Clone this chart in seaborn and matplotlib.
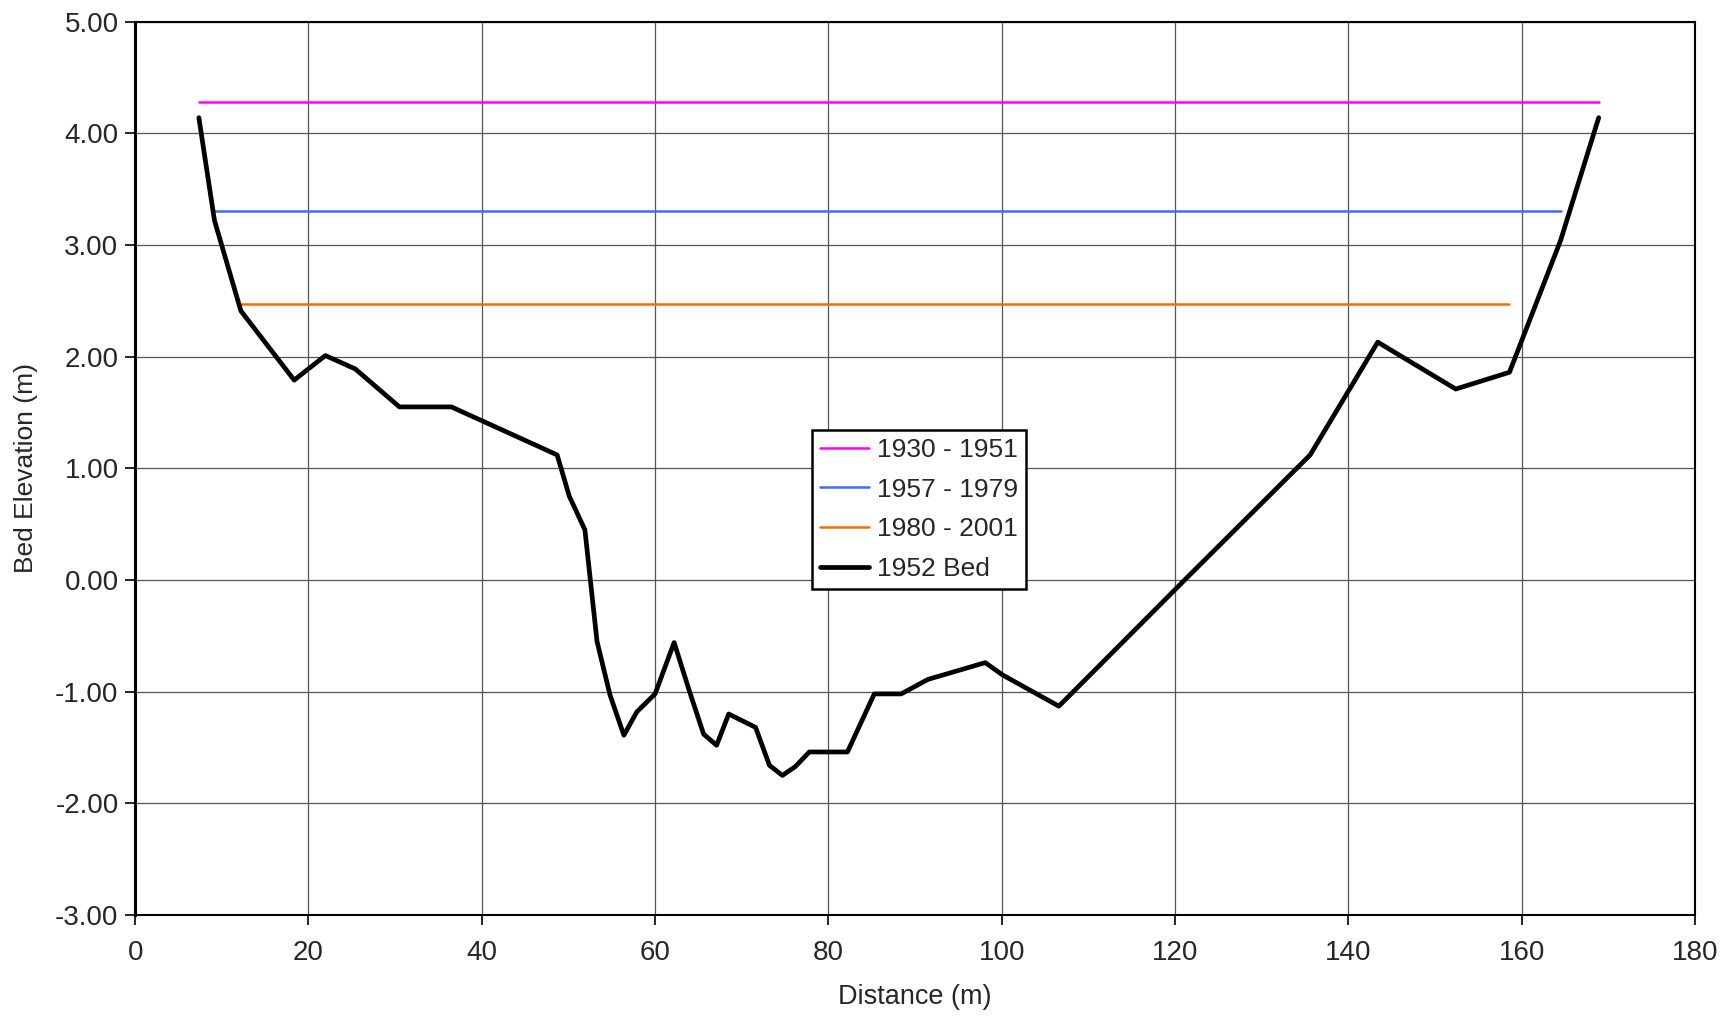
import numpy as np
import pandas as pd
import matplotlib
matplotlib.use("Agg")
import matplotlib.pyplot as plt
import seaborn as sns
from matplotlib.ticker import FormatStrFormatter

sns.set_style("white")
plt.rcParams['font.family'] = ['Liberation Sans', 'DejaVu Sans']
plt.rcParams['axes.unicode_minus'] = False

# 1952 bed profile (distance m, elevation m)
bed_x = [7.35, 9.15, 12.2, 18.35, 21.95, 25.4, 30.5, 36.5, 48.7, 50.1, 51.9,
         53.3, 54.8, 56.4, 57.9, 60.0, 62.2, 63.9, 65.6, 67.1, 68.5, 71.6,
         73.2, 74.7, 76.2, 77.8, 82.2, 85.3, 88.4, 91.5, 98.1, 100.1, 106.6,
         121.5, 135.6, 143.4, 152.4, 158.6, 164.5, 168.9]
bed_y = [4.14, 3.22, 2.41, 1.79, 2.01, 1.89, 1.55, 1.55, 1.12, 0.75, 0.45,
         -0.55, -1.03, -1.39, -1.18, -1.02, -0.56, -0.98, -1.38, -1.48, -1.20, -1.32,
         -1.66, -1.75, -1.67, -1.54, -1.54, -1.02, -1.02, -0.89, -0.74, -0.85, -1.13,
         0.03, 1.12, 2.13, 1.71, 1.86, 3.04, 4.14]

# water levels for each period
periods = ["1930 - 1951", "1957 - 1979", "1980 - 2001"]
level_y = [4.28, 3.30, 2.47]
level_x0 = [7.35, 9.15, 12.2]
level_x1 = [168.9, 164.5, 158.6]
level_colors = ["#FF00FF", "#3F6BFF", "#FF6A00"]

bed = pd.DataFrame({"dist": bed_x, "elev": bed_y})

fig = plt.figure(figsize=(17.33, 10.16), dpi=100)
ax = fig.add_axes([0.078, 0.0994, 0.900, 0.8793])

for name, y, x0, x1, c in zip(periods, level_y, level_x0, level_x1, level_colors):
    lv = pd.DataFrame({"dist": [x0, x1], "elev": [y, y]})
    sns.lineplot(data=lv, x="dist", y="elev", color=c, lw=1.8, label=name, ax=ax)

sns.lineplot(data=bed, x="dist", y="elev", sort=False, color="black", lw=3.4,
             label="1952 Bed", ax=ax)

ax.set_xlim(0, 180)
ax.set_ylim(-3, 5)
ax.set_xticks(np.arange(0, 181, 20))
ax.set_yticks(np.arange(-3, 5.01, 1))
ax.yaxis.set_major_formatter(FormatStrFormatter("%.2f"))
ax.grid(True, color="#555555", lw=0.9)
ax.set_axisbelow(True)
ax.tick_params(axis="both", direction="out", length=7, width=1.2, color="black",
               labelsize=20, left=True, bottom=True)
ax.tick_params(axis="x", pad=11)
ax.tick_params(axis="y", pad=5)

for side in ["top", "right", "bottom"]:
    ax.spines[side].set_color("black")
    ax.spines[side].set_linewidth(1.5)
ax.spines["left"].set_color("black")
ax.spines["left"].set_linewidth(2.2)

ax.set_xlabel("Distance (m)", fontsize=19.5, labelpad=13)
ax.set_ylabel("Bed Elevation (m)", fontsize=19, labelpad=12)

leg = ax.legend(loc="upper left", bbox_to_anchor=(0.434, 0.543), fontsize=19,
                frameon=True, fancybox=False, edgecolor="black", framealpha=1,
                handlelength=1.85, handletextpad=0.3, labelspacing=0.6,
                borderpad=0.3, borderaxespad=0)
leg.get_frame().set_linewidth(1.8)

fig.savefig("out.png", dpi=100)
